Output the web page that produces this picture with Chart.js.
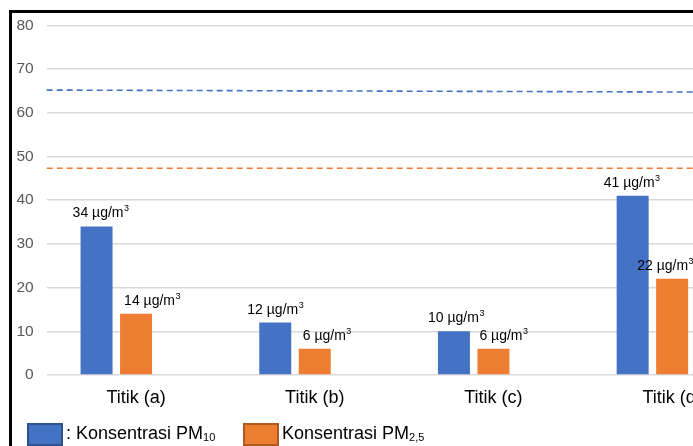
<!DOCTYPE html>
<html>
<head>
<meta charset="utf-8">
<script src="https://cdn.jsdelivr.net/npm/chart.js@4"></script>
<style>
  html, body { margin: 0; padding: 0; background: #fff; overflow: hidden; }
  body { width: 693px; height: 446px; position: relative; font-family: 'Liberation Sans', Arial, sans-serif; }
  #frame { position: absolute; left: 9px; top: 10px; width: 800px; height: 500px;
           border-left: 3px solid #000; border-top: 3px solid #000; }
  #chart { position: absolute; left: 0; top: 0; }
  .box { position: absolute; top: 423px; width: 36px; height: 23px; box-sizing: border-box; }
  .txt { position: absolute; top: 423px; font-size: 18px; line-height: 21px; color: #000; white-space: nowrap; }
  .txt sub { font-size: 11px; vertical-align: -2px; }
</style>
</head>
<body>
<div id="frame"></div>
<canvas id="chart" width="770" height="446"></canvas>
<div class="box" style="left:27px; background:#4472c4; border:2px solid #2f528f;"></div>
<div class="txt" style="left:66px;">: Konsentrasi PM<sub>10</sub></div>
<div class="box" style="left:243px; background:#ed7d31; border:2px solid #ae5a21;"></div>
<div class="txt" style="left:282px;">Konsentrasi PM<sub>2,5</sub></div>
<script>
// data
const titik = ['Titik (a)', 'Titik (b)', 'Titik (c)', 'Titik (d)'];
const pm10 = [34, 12, 10, 41];
const pm25 = [14, 6, 6, 22];
const unused = [null, null, null, null];   // empty third series in each group
const pm10Limit = [65.2, 64.7];            // dashed line, left end / right end
const pm25Limit = [47.3, 47.3];
const yTicks = [0, 10, 20, 30, 40, 50, 60, 70, 80];

// label nudges, the value labels were moved by hand in the original
const pm10LabelShift = [4, 0, 2, -1];
const pm25LabelShift = [16, 12, 10, -7];

const BLUE = '#4472c4';
const ORANGE = '#ed7d31';
const FONT = "'Liberation Sans', Arial, sans-serif";
Chart.defaults.font.family = FONT;

// dashed limit lines
const limitLines = {
  id: 'limitLines',
  beforeDatasetsDraw(chart) {
    const { ctx, chartArea, scales } = chart;
    const lines = [[pm10Limit, BLUE], [pm25Limit, ORANGE]];
    ctx.save();
    ctx.lineWidth = 1.6;
    ctx.setLineDash([6, 4]);
    lines.forEach(([v, color]) => {
      ctx.strokeStyle = color;
      ctx.beginPath();
      ctx.moveTo(chartArea.left, scales.y.getPixelForValue(v[0]));
      ctx.lineTo(chartArea.right, scales.y.getPixelForValue(v[1]));
      ctx.stroke();
    });
    ctx.restore();
  }
};

// "NN µg/m³" labels over the bars
const valueLabels = {
  id: 'valueLabels',
  afterDatasetsDraw(chart) {
    const { ctx } = chart;
    const shifts = [pm10LabelShift, pm25LabelShift];
    ctx.save();
    ctx.fillStyle = '#000';
    ctx.textBaseline = 'alphabetic';
    [0, 1].forEach(di => {
      const meta = chart.getDatasetMeta(di);
      meta.data.forEach((bar, i) => {
        const main = chart.data.datasets[di].data[i] + ' \u00b5g/m';
        ctx.font = '14px ' + FONT;
        const w1 = ctx.measureText(main).width;
        ctx.font = '9px ' + FONT;
        const w2 = ctx.measureText('3').width;
        const x0 = bar.x + shifts[di][i] - (w1 + w2) / 2;
        const y0 = bar.y - 9;
        ctx.font = '14px ' + FONT;
        ctx.textAlign = 'left';
        ctx.fillText(main, x0, y0);
        ctx.font = '9px ' + FONT;
        ctx.fillText('3', x0 + w1 + 0.5, y0 - 6);
      });
    });
    ctx.restore();
  }
};

new Chart(document.getElementById('chart'), {
  type: 'bar',
  data: {
    labels: titik,
    datasets: [
      { label: 'Konsentrasi PM10', data: pm10, backgroundColor: BLUE },
      { label: 'Konsentrasi PM2,5', data: pm25, backgroundColor: ORANGE },
      { label: '', data: unused, backgroundColor: 'rgba(0,0,0,0)' }
    ]
  },
  options: {
    responsive: false,
    animation: false,
    categoryPercentage: 0.663,
    barPercentage: 0.81,
    layout: { padding: { top: 25.4, right: 8.5, bottom: 0, left: 0 } },
    plugins: { legend: { display: false }, tooltip: { enabled: false } },
    scales: {
      x: {
        grid: { display: false },
        border: { display: false },
        ticks: { color: '#000', font: { size: 18 }, padding: 4 },
        afterFit: s => { s.height = 71; }
      },
      y: {
        min: 0,
        max: 80,
        afterBuildTicks: s => { s.ticks = yTicks.map(v => ({ value: v })); },
        grid: { color: '#d9d9d9', lineWidth: 1.6, drawTicks: false },
        border: { display: false },
        ticks: { color: '#595959', font: { size: 15.5 }, padding: 13 },
        afterFit: s => { s.width = 46.7; }
      }
    }
  },
  plugins: [limitLines, valueLabels]
});
</script>
</body>
</html>
